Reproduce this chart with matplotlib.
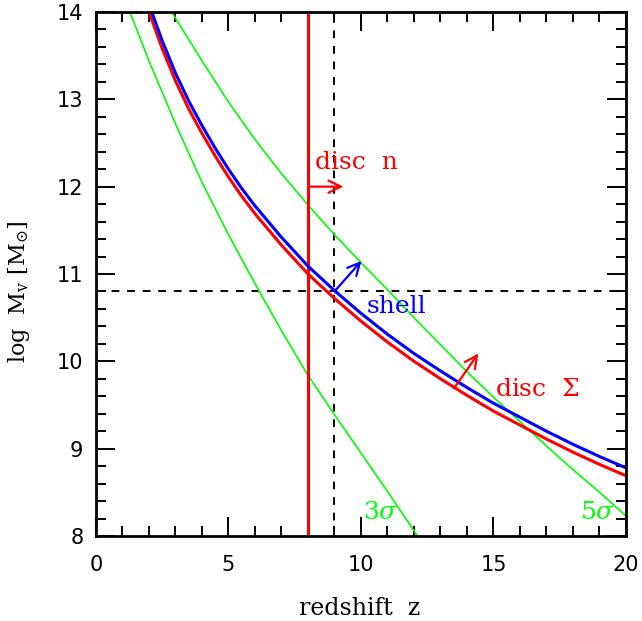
import numpy as np
import matplotlib
matplotlib.use("Agg")
import matplotlib.pyplot as plt
from matplotlib.ticker import MultipleLocator

# curves (redshift z, log Mv)
z_red = [2, 2.5, 3, 3.5, 4, 4.5, 5, 5.5, 6, 7, 8, 9, 10, 11, 12, 13, 14, 15, 16, 17, 18, 19, 20]
m_red = [14.0, 13.58, 13.21, 12.89, 12.61, 12.35, 12.11, 11.89, 11.69, 11.33, 11.00, 10.72,
         10.46, 10.22, 10.00, 9.80, 9.61, 9.43, 9.27, 9.11, 8.96, 8.82, 8.69]

z_blue = [2, 2.5, 3, 3.5, 4, 4.5, 5, 5.5, 6, 7, 8, 9, 10, 11, 12, 13, 14, 15, 16, 17, 18, 19, 20]
m_blue = [14.09, 13.67, 13.30, 12.98, 12.70, 12.44, 12.20, 11.98, 11.78, 11.42, 11.09, 10.81,
          10.55, 10.31, 10.09, 9.89, 9.70, 9.52, 9.36, 9.20, 9.05, 8.91, 8.78]

z_3sig = [1.28, 2, 3, 4, 5, 6, 7, 8, 9, 10, 11, 12, 12.2]
m_3sig = [14.0, 13.44, 12.72, 12.05, 11.45, 10.89, 10.35, 9.84, 9.39, 8.95, 8.51, 8.06, 7.97]

z_5sig = [2.86, 3, 4, 5, 6, 7, 8, 9, 10, 11, 12, 13, 14, 15, 16, 17, 18, 19, 20]
m_5sig = [14.0, 13.93, 13.44, 12.97, 12.54, 12.15, 11.79, 11.45, 11.13, 10.82,
          10.50, 10.19, 9.88, 9.59, 9.31, 9.03, 8.76, 8.50, 8.23]

z_disc_n = 8.0
z_cut = 9.0
m_cut = 10.8


def main():
   plt.rcParams['mathtext.fontset'] = 'dejavuserif'
   fig = plt.figure(figsize=(6.42, 6.21), dpi=100)
   ax = fig.add_axes([0.1495, 0.1369, 0.8255, 0.8438])

   red = (1, 0, 0)
   blue = (0, 0, 1)
   green = (0, 1, 0)

   # dashed reference lines
   ax.axvline(z_cut, color='k', lw=1.4, ls=(0, (4, 4)))
   ax.axhline(m_cut, color='k', lw=1.4, ls=(0, (4, 4)))

   ax.plot(z_3sig, m_3sig, color=green, lw=1.2)
   ax.plot(z_5sig, m_5sig, color=green, lw=1.2)
   ax.axvline(z_disc_n, color=red, lw=2.2)
   ax.plot(z_red, m_red, color=red, lw=2.2)
   ax.plot(z_blue, m_blue, color=blue, lw=2.2)

   # arrows
   ap = dict(arrowstyle='->', mutation_scale=22, shrinkA=0, shrinkB=0)
   ax.annotate('', xy=(9.33, 12.0), xytext=(8.0, 12.0),
               arrowprops=dict(ap, color=red, lw=1.6))
   ax.annotate('', xy=(10.02, 11.15), xytext=(9.0, 10.8),
               arrowprops=dict(ap, color=blue, lw=1.6))
   ax.annotate('', xy=(14.43, 10.09), xytext=(13.51, 9.69),
               arrowprops=dict(ap, color=red, lw=1.6))

   tf = dict(family='DejaVu Serif', fontsize=18)
   ax.text(8.26, 12.28, 'disc  n', color=red, va='center', ha='left', **tf)
   ax.text(10.23, 10.63, 'shell', color=blue, va='center', ha='left', **tf)
   ax.text(15.06, 9.68, r'disc  $\Sigma$', color=red, va='center', ha='left', **tf)
   ax.text(10.08, 8.27, r'3$\sigma$', color=green, va='center', ha='left', **tf)
   ax.text(18.26, 8.27, r'5$\sigma$', color=green, va='center', ha='left', **tf)

   ax.set_xlim(0, 20)
   ax.set_ylim(8, 14)
   ax.xaxis.set_major_locator(MultipleLocator(5))
   ax.xaxis.set_minor_locator(MultipleLocator(1))
   ax.yaxis.set_major_locator(MultipleLocator(1))
   ax.yaxis.set_minor_locator(MultipleLocator(0.2))
   ax.tick_params(which='both', direction='in', top=True, right=True, width=1.4)
   ax.tick_params(which='major', length=13.5, labelsize=15)
   ax.tick_params(axis='x', which='major', pad=14)
   ax.tick_params(axis='y', which='major', pad=9)
   ax.tick_params(which='minor', length=7)
   for s in ax.spines.values():
      s.set_linewidth(2)

   ax.set_xlabel('redshift  z', family='DejaVu Serif', fontsize=17)
   ax.set_ylabel(r'log  M$_{\rm v}$ [M$_{\odot}$]', family='DejaVu Serif', fontsize=16)
   ax.xaxis.set_label_coords(0.498, -0.117)
   ax.yaxis.set_label_coords(-0.12, 0.466)

   fig.savefig('out.png', dpi=100)


if __name__ == "__main__":
   main()
